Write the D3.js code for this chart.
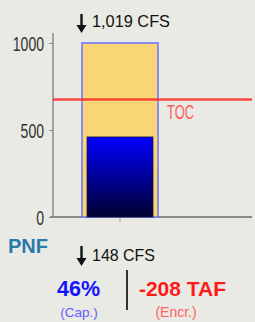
<!DOCTYPE html>
<html><head><meta charset="utf-8">
<script src="https://cdn.jsdelivr.net/npm/d3@7"></script>
<style>
html,body{margin:0;padding:0;background:#eaeae5;}
svg{display:block;}
</style></head>
<body>
<script>
// ---- data ----
const categories = ["PNF"];
const capacity = [1000];        // TAF
const storage = [460];          // TAF (46% of capacity)
const toc = [675];              // top of conservation, TAF
const yTicks = [0, 500, 1000];
const inflowLabel = ["1,019 CFS"];
const outflowLabel = ["148 CFS"];
const pctLabel = ["46%"];
const encrLabel = ["-208 TAF"];

const W = 255, H = 322;
const FONT = "Liberation Sans, Arial, sans-serif";
const svg = d3.select("body").append("svg").attr("width", W).attr("height", H);

const defs = svg.append("defs");
const grad = defs.append("linearGradient").attr("id","blueGrad")
  .attr("x1",0).attr("y1",0).attr("x2",0).attr("y2",1);
grad.append("stop").attr("offset","0%").attr("stop-color","#0000ff");
grad.append("stop").attr("offset","100%").attr("stop-color","#000030");

const x0 = 53, x1 = 252, yBottom = 217, yTop = 43;
const y = d3.scaleLinear().domain([0, 1000]).range([yBottom, yTop]);
const x = d3.scaleBand().domain(categories).range([82, 158]).padding(0);

// axes
const gy = svg.append("g").attr("transform", `translate(${x0},0)`)
  .call(d3.axisLeft(y).tickValues(yTicks).tickFormat(d3.format("d"))
    .tickSize(4).tickPadding(5).tickSizeOuter(0));
gy.select(".domain").remove();
gy.append("line").attr("x1",0).attr("x2",0).attr("y1",y(1057)).attr("y2",yBottom)
  .attr("stroke","#8a8a8a").attr("stroke-width",1.5);
gy.selectAll(".tick line").attr("stroke","#8a8a8a");
gy.selectAll(".tick text")
  .attr("font-family",FONT).attr("font-size",20).attr("fill","#333")
  .attr("dy","0.36em")
  .attr("lengthAdjust","spacingAndGlyphs")
  .attr("textLength", function(){ return this.textContent.length * 7.8; });

const gx = svg.append("g").attr("transform", `translate(0,${yBottom})`);
gx.append("line").attr("x1",x0-3).attr("x2",x1).attr("y1",0).attr("y2",0)
  .attr("stroke","#8a8a8a").attr("stroke-width",2);
gx.selectAll(".xt").data(categories).enter().append("line")
  .attr("x1",d=>x(d)+x.bandwidth()/2).attr("x2",d=>x(d)+x.bandwidth()/2)
  .attr("y1",1).attr("y2",5).attr("stroke","#aaa");

// capacity bar
svg.selectAll(".cap").data(categories).enter().append("rect")
  .attr("x", d=>x(d)).attr("width", x.bandwidth())
  .attr("y", (d,i)=>y(capacity[i])).attr("height",(d,i)=>yBottom - y(capacity[i]))
  .attr("fill","#f7d676").attr("stroke","#6f6fff").attr("stroke-width",1.5);

// storage bar
svg.selectAll(".sto").data(categories).enter().append("rect")
  .attr("x", d=>x(d)+5).attr("width", x.bandwidth()-10)
  .attr("y", (d,i)=>y(storage[i])).attr("height",(d,i)=>yBottom - y(storage[i]))
  .attr("fill","url(#blueGrad)").attr("stroke","#1a1a3a").attr("stroke-width",0.8);

// TOC line
svg.selectAll(".toc").data(toc).enter().append("line")
  .attr("x1",x0).attr("x2",x1).attr("y1",d=>y(d)).attr("y2",d=>y(d))
  .attr("stroke","#ff2a2a").attr("stroke-opacity",0.85).attr("stroke-width",2.5);
svg.selectAll(".toct").data(toc).enter().append("text")
  .attr("x",167).attr("y",d=>y(d)+19)
  .attr("font-family",FONT).attr("font-size",20).attr("fill","#ff5a5a")
  .attr("lengthAdjust","spacingAndGlyphs").attr("textLength",27).text("TOC");

// arrows
function arrow(cx, top, tip){
  svg.append("line").attr("x1",cx).attr("x2",cx).attr("y1",top).attr("y2",tip-6)
    .attr("stroke","#111").attr("stroke-width",2.4);
  svg.append("path").attr("d",`M${cx-5},${tip-8}L${cx+5},${tip-8}L${cx},${tip}Z`).attr("fill","#111");
}
arrow(81.5, 14, 33);
svg.append("text").attr("x",92).attr("y",26.5).attr("font-family",FONT)
  .attr("font-size",16.5).attr("fill","#111")
  .attr("lengthAdjust","spacingAndGlyphs").attr("textLength",78).text(inflowLabel[0]);

svg.append("text").attr("x",8).attr("y",253).attr("font-family",FONT)
  .attr("font-weight","bold").attr("font-size",20).attr("fill","#2a79ad").text(categories[0]);

arrow(81.5, 246, 266);
svg.append("text").attr("x",92).attr("y",260.5).attr("font-family",FONT)
  .attr("font-size",16.5).attr("fill","#111")
  .attr("lengthAdjust","spacingAndGlyphs").attr("textLength",63).text(outflowLabel[0]);

svg.append("text").attr("x",78.5).attr("y",296).attr("text-anchor","middle")
  .attr("font-family",FONT).attr("font-weight","bold")
  .attr("font-size",21.5).attr("fill","#1414ff").text(pctLabel[0]);
svg.append("text").attr("x",79).attr("y",317).attr("text-anchor","middle")
  .attr("font-family",FONT).attr("font-size",13.5).attr("fill","#6060ff").text("(Cap.)");

svg.append("line").attr("x1",127).attr("x2",127).attr("y1",270).attr("y2",310)
  .attr("stroke","#333").attr("stroke-width",2);

svg.append("text").attr("x",182.5).attr("y",296).attr("text-anchor","middle")
  .attr("font-family",FONT).attr("font-weight","bold")
  .attr("font-size",21).attr("fill","#ff1a1a").text(encrLabel[0]);
svg.append("text").attr("x",176).attr("y",317).attr("text-anchor","middle")
  .attr("font-family",FONT).attr("font-size",14).attr("fill","#ff6060").text("(Encr.)");
</script>
</body></html>
